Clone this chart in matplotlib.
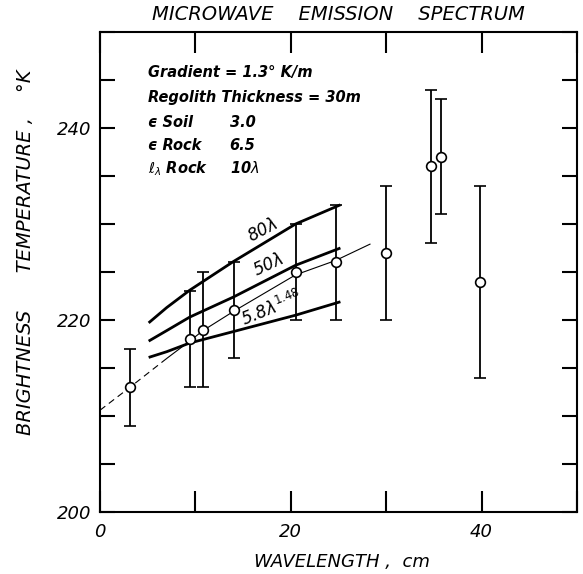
import matplotlib
matplotlib.use("Agg")
import matplotlib.pyplot as plt
from matplotlib.ticker import FixedLocator, FixedFormatter

# ---- data ----
wavelength = [3.15, 9.4, 10.8, 14.0, 20.5, 24.7, 30.0, 34.7, 35.7, 39.8]
temperature = [213.0, 218.0, 219.0, 221.0, 225.0, 226.0, 227.0, 236.0, 237.0, 224.0]
err_low = [209.0, 213.0, 213.0, 216.0, 220.0, 220.0, 220.0, 228.0, 231.0, 214.0]
err_high = [217.0, 223.0, 225.0, 226.0, 230.0, 232.0, 234.0, 244.0, 243.0, 234.0]

model_x = [5.1, 7.0, 9.4, 14.0, 20.5, 25.2]
model_80 = [219.7, 221.3, 223.1, 226.1, 230.0, 232.0]
model_50 = [217.8, 218.9, 220.3, 222.4, 225.7, 227.5]
model_58 = [216.1, 216.7, 217.6, 218.8, 220.5, 221.9]

fit_dash_x = [0.0, 3.15, 7.0]
fit_dash_y = [210.6, 213.0, 216.0]
fit_x = [7.0, 9.4, 10.8, 14.0, 20.5, 24.7, 28.3]
fit_y = [216.0, 217.8, 218.9, 220.9, 224.7, 226.2, 227.9]

x_ticks = [0, 10, 20, 30, 40, 50]
x_labels = ["0", "", "20", "", "40", ""]
y_ticks = [200, 205, 210, 215, 220, 225, 230, 235, 240, 245, 250]
y_labels = ["200", "", "", "", "220", "", "", "", "240", "", ""]

fig = plt.figure(figsize=(5.83, 5.74), dpi=100)
ax = fig.add_axes([100 / 583, 1 - 512 / 574, 477 / 583, 480 / 574])
ax.set_xlim(0, 50)
ax.set_ylim(200, 250)

for s in ax.spines.values():
    s.set_linewidth(1.5)

# error bars with open circles
yerr = [[t - l for t, l in zip(temperature, err_low)],
        [h - t for t, h in zip(temperature, err_high)]]
ax.errorbar(wavelength, temperature, yerr=yerr, fmt="o", color="black",
            mfc="white", mec="black", ms=7, mew=1.2, elinewidth=1.3,
            capsize=4.5, capthick=1.3, zorder=5)

# model curves
for ys in (model_80, model_50, model_58):
    ax.plot(model_x, ys, color="black", lw=2.0, solid_capstyle="butt",
            solid_joinstyle="round", zorder=3)

# thin fit line
ax.plot(fit_dash_x, fit_dash_y, color="black", lw=0.8, ls=(0, (6, 4)), zorder=2)
ax.plot(fit_x, fit_y, color="black", lw=0.8, zorder=2)

lab_kw = dict(fontsize=12, style="italic", ha="center", va="center", color="black")
ax.text(17.0, 229.3, r"80$\lambda$", rotation=28, **lab_kw)
ax.text(17.6, 225.7, r"50$\lambda$", rotation=25, **lab_kw)
ax.text(18.0, 221.2, r"5.8$\lambda^{1.48}$", rotation=22, **lab_kw)

# parameter block
tk = dict(fontsize=10.5, style="italic", fontweight="bold", ha="left", va="center")
ax.text(5.0, 245.8, "Gradient = 1.3° K/m", **tk)
ax.text(5.0, 243.2, "Regolith Thickness = 30m", **tk)
ax.text(5.0, 240.6, "ϵ Soil", **tk)
ax.text(13.6, 240.6, "3.0", **tk)
ax.text(5.0, 238.2, "ϵ Rock", **tk)
ax.text(13.6, 238.2, "6.5", **tk)
ax.text(5.0, 235.8, r"$\ell_\lambda$ Rock", **tk)
ax.text(13.6, 235.8, r"10$\lambda$", **tk)

# ticks
ax.xaxis.set_major_locator(FixedLocator(x_ticks))
ax.xaxis.set_major_formatter(FixedFormatter(x_labels))
ax.yaxis.set_major_locator(FixedLocator(y_ticks))
ax.yaxis.set_major_formatter(FixedFormatter(y_labels))
ax.tick_params(axis="x", direction="in", length=15, width=1.5, top=True,
               pad=8, labelsize=13)
ax.tick_params(axis="y", direction="in", length=11, width=1.5, right=True,
               pad=6, labelsize=13)
for lab in ax.get_xticklabels() + ax.get_yticklabels():
    lab.set_style("italic")

fig.text(338 / 583, 1 - 15 / 574, "MICROWAVE    EMISSION    SPECTRUM",
         fontsize=14, style="italic", ha="center", va="center")
fig.text(342 / 583, 1 - 562 / 574, "WAVELENGTH ,  cm",
         fontsize=13, style="italic", ha="center", va="center")
fig.text(26 / 583, 1 - 252 / 574, "BRIGHTNESS      TEMPERATURE ,    °K",
         fontsize=14, style="italic", ha="center", va="center", rotation=90)

fig.savefig("out.png", dpi=100)
